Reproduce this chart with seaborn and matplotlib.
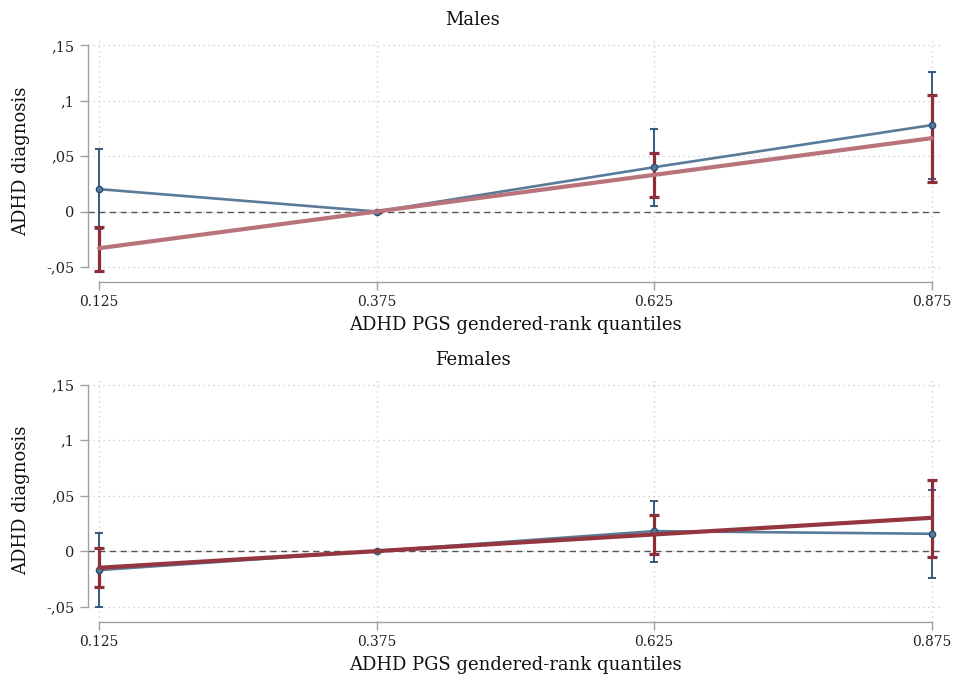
import numpy as np
import pandas as pd
import matplotlib
matplotlib.use("Agg")
import matplotlib.pyplot as plt
import seaborn as sns

# ---- data ----
quantiles = [0.125, 0.375, 0.625, 0.875]
xtick_labels = ["0.125", "0.375", "0.625", "0.875"]
ytick_values = [-0.05, 0.0, 0.05, 0.10, 0.15]
ytick_labels = ["-,05", "0", ",05", ",1", ",15"]
panels = ["Males", "Females"]

# Males
male_blue = [0.0202, 0.0, 0.0400, 0.0780]
male_blue_lo = [-0.0156, 0.0, 0.0054, 0.0295]
male_blue_hi = [0.0560, 0.0, 0.0746, 0.1258]
male_red = [-0.0331, 0.0, 0.0331, 0.0662]
male_red_lo = [-0.0535, 0.0, 0.0130, 0.0265]
male_red_hi = [-0.0141, 0.0, 0.0527, 0.1056]

# Females
female_blue = [-0.0171, 0.0, 0.0180, 0.0156]
female_blue_lo = [-0.0500, 0.0, -0.0096, -0.0240]
female_blue_hi = [0.0159, 0.0, 0.0453, 0.0552]
female_red = [-0.0150, 0.0, 0.0150, 0.0300]
female_red_lo = [-0.0324, 0.0, -0.0024, -0.0051]
female_red_hi = [0.0024, 0.0, 0.0321, 0.0645]

rows = []
for panel, series in [
    ("Males", [("blue", male_blue, male_blue_lo, male_blue_hi),
               ("red", male_red, male_red_lo, male_red_hi)]),
    ("Females", [("blue", female_blue, female_blue_lo, female_blue_hi),
                 ("red", female_red, female_red_lo, female_red_hi)]),
]:
    for name, y, lo, hi in series:
        for q, v, l, h in zip(quantiles, y, lo, hi):
            rows.append(dict(panel=panel, series=name, x=q, y=v, lo=l, hi=h))
df = pd.DataFrame(rows)

# ---- style ----
sns.set_theme(style="white")
plt.rcParams["font.family"] = ["DejaVu Serif", "DejaVu Sans"]

BLUE_LINE = "#5a7b98"
BLUE_ERR = "#234f7a"
RED_ERR = "#8e2e39"
RED_LINE = {"Males": "#b9737b", "Females": "#943640"}

fig = plt.figure(figsize=(9.55, 6.76), dpi=100)
W, H = 955.0, 676.0
ax_top = fig.add_axes([87.7 / W, 1 - 282 / H, (943 - 87.7) / W, (282 - 40) / H])
ax_bot = fig.add_axes([87.7 / W, 1 - 621.7 / H, (943 - 87.7) / W, (621.7 - 379.3) / H])

for ax, panel in [(ax_top, "Males"), (ax_bot, "Females")]:
    d = df[df.panel == panel]
    b = d[d.series == "blue"]
    r = d[d.series == "red"]

    ax.set_xlim(0.1148, 0.8852)
    ax.set_ylim(-0.0636, 0.1548)

    ax.grid(True, linestyle=(0, (1, 3)), color="#c8c8c8", linewidth=0.9)
    ax.axhline(0, color="#555555", linestyle=(0, (4.5, 3.2)), linewidth=1.0, zorder=1)

    # blue CIs
    ax.errorbar(b.x, b.y, yerr=[b.y - b.lo, b.hi - b.y], fmt="none",
                ecolor=BLUE_ERR, elinewidth=1.3, capsize=3.0, capthick=1.3, zorder=2)
    # red CIs
    ax.errorbar(r.x, r.y, yerr=[r.y - r.lo, r.hi - r.y], fmt="none",
                ecolor=RED_ERR, elinewidth=2.3, capsize=3.6, capthick=2.3, zorder=3)
    # blue estimates
    sns.lineplot(data=b, x="x", y="y", ax=ax, color=BLUE_LINE, linewidth=1.9,
                 marker="o", markersize=4.5, markerfacecolor=BLUE_LINE,
                 markeredgecolor=BLUE_ERR, markeredgewidth=1.0, zorder=4,
                 errorbar=None, legend=False)
    # red fitted line
    sns.lineplot(data=r, x="x", y="y", ax=ax, color=RED_LINE[panel], linewidth=3.0,
                 zorder=5, errorbar=None, legend=False)

    ax.set_xticks(quantiles)
    ax.set_xticklabels(xtick_labels, fontsize=10)
    ax.set_yticks(ytick_values)
    ax.set_yticklabels(ytick_labels, fontsize=10.5)
    ax.tick_params(axis="both", which="both", length=5.8, width=1.0, color="#a0a0a0",
                   direction="out", left=True, bottom=True, pad=3.5, labelcolor="#222222")

    for s in ["top", "right"]:
        ax.spines[s].set_visible(False)
    ax.spines["left"].set_bounds(-0.05, 0.15)
    ax.spines["bottom"].set_bounds(0.125, 0.875)
    for s in ["left", "bottom"]:
        ax.spines[s].set_color("#a0a0a0")
        ax.spines[s].set_linewidth(1.0)

    ax.set_xlabel("ADHD PGS gendered-rank quantiles", fontsize=13, labelpad=5, color="#111111")
    ax.set_ylabel("ADHD diagnosis", fontsize=13, labelpad=12, color="#111111")
    ax.set_title(panel, fontsize=13, pad=10.5, x=0.4505, color="#111111")

fig.savefig("out.png", dpi=100, facecolor="white")
